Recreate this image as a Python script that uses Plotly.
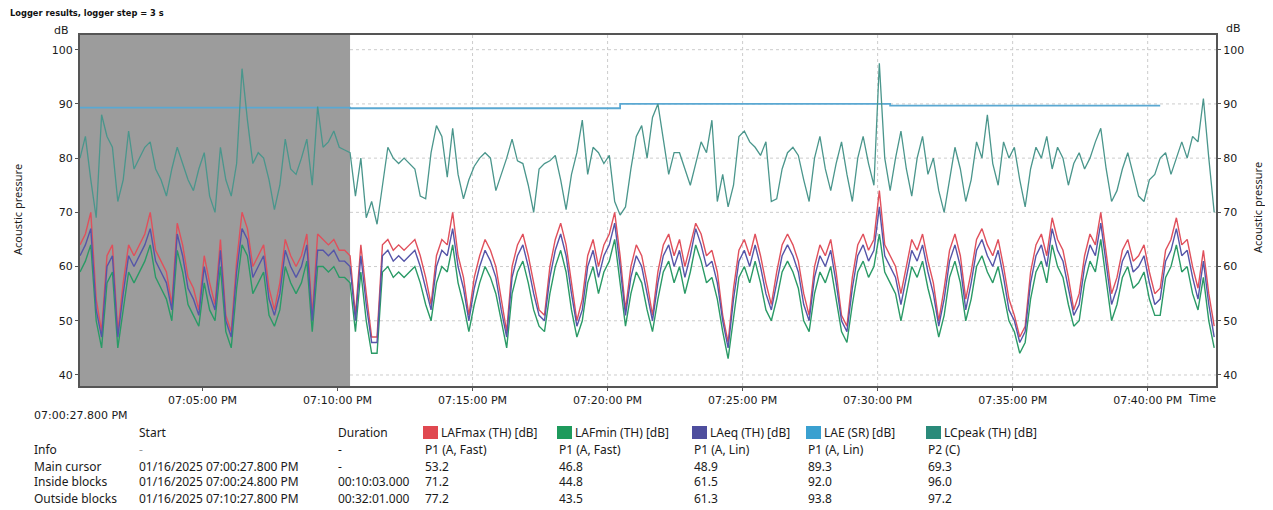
import plotly.graph_objects as go
import pandas as pd

# ---------------- data ----------------
TITLE = "Logger results, logger step = 3 s"
START = "2025-01-16 19:00:27.8"
END = "2025-01-16 19:42:31.8"
BLOCK_END = "2025-01-16 19:10:27.8"
SAMPLE_STEP_S = 12  # values every 12 s

LAFMAX = [64, 66, 70, 54, 48, 62, 64, 48, 57, 64,
          62, 64, 66, 70, 63, 61, 59, 53, 68, 64,
          58, 56, 52, 62, 57, 53, 65, 51, 48, 61,
          70, 67, 60, 62, 64, 56, 52, 57, 65, 62,
          60, 62, 66, 51, 66, 65, 64, 65, 63, 63,
          62, 51, 64, 55, 47, 47, 64, 65, 63, 64,
          63, 64, 65, 62, 58, 53, 62, 65, 64, 70,
          62, 58, 51, 58, 62, 65, 63, 60, 54, 48,
          60, 64, 66, 62, 57, 52, 51, 60, 65, 68,
          64, 57, 50, 54, 62, 65, 60, 64, 66, 70,
          62, 52, 60, 64, 62, 57, 51, 59, 64, 66,
          62, 65, 60, 64, 68, 66, 62, 63, 59, 51,
          46, 56, 63, 65, 62, 66, 62, 57, 53, 59,
          64, 66, 64, 61, 55, 51, 60, 64, 62, 65,
          59, 51, 49, 58, 64, 66, 63, 65, 74, 64,
          62, 60, 55, 60, 65, 63, 66, 61, 57, 50,
          56, 63, 66, 62, 54, 59, 65, 67, 64, 62,
          65, 60, 54, 51, 47, 49, 59, 64, 66, 62,
          69, 65, 63, 58, 52, 55, 62, 66, 64, 70,
          62, 55, 58, 63, 65, 61, 62, 64, 59, 55,
          56, 63, 65, 69, 64, 65, 60, 56, 63, 55, 49]

LAFMIN = [59, 61, 64, 50, 45, 57, 59, 45, 52, 59,
          57, 59, 61, 64, 58, 56, 54, 50, 63, 59,
          53, 51, 49, 57, 52, 50, 60, 48, 45, 56,
          64, 62, 55, 57, 59, 51, 49, 52, 60, 57,
          55, 57, 61, 48, 60, 60, 59, 60, 58, 58,
          57, 48, 59, 50, 44, 44, 59, 60, 58, 59,
          58, 59, 60, 57, 53, 50, 57, 60, 59, 64,
          57, 53, 48, 53, 57, 60, 58, 55, 50, 45,
          55, 59, 61, 57, 52, 49, 48, 55, 60, 63,
          59, 52, 47, 50, 57, 60, 55, 59, 61, 65,
          57, 49, 55, 59, 57, 52, 48, 54, 59, 61,
          57, 60, 55, 59, 64, 61, 57, 58, 54, 48,
          43, 51, 58, 60, 57, 61, 57, 52, 50, 54,
          59, 61, 59, 56, 50, 48, 55, 59, 57, 60,
          54, 48, 46, 53, 59, 61, 58, 60, 66, 59,
          57, 55, 50, 55, 60, 58, 61, 56, 52, 47,
          51, 58, 61, 57, 50, 54, 60, 62, 59, 57,
          60, 55, 50, 48, 44, 46, 54, 59, 61, 57,
          64, 60, 58, 53, 49, 50, 57, 61, 59, 65,
          57, 50, 53, 58, 60, 56, 57, 59, 54, 51,
          51, 58, 60, 64, 59, 60, 55, 52, 58, 50, 45]

LAEQ = [62, 64, 67, 52, 47, 60, 62, 47, 55, 62,
        60, 62, 64, 67, 61, 59, 57, 52, 66, 62,
        56, 54, 51, 60, 55, 52, 63, 50, 47, 59,
        67, 65, 58, 60, 62, 54, 51, 55, 63, 60,
        58, 60, 64, 50, 63, 63, 62, 63, 61, 61,
        60, 50, 62, 53, 46, 46, 62, 63, 61, 62,
        61, 62, 63, 60, 56, 52, 60, 63, 62, 67,
        60, 56, 50, 56, 60, 63, 61, 58, 52, 47,
        58, 62, 64, 60, 55, 51, 50, 58, 63, 66,
        62, 55, 49, 52, 60, 63, 58, 62, 64, 68,
        60, 51, 58, 62, 60, 55, 50, 57, 62, 64,
        60, 63, 58, 62, 67, 64, 60, 61, 57, 50,
        45, 54, 61, 63, 60, 64, 60, 55, 52, 57,
        62, 64, 62, 59, 53, 50, 58, 62, 60, 63,
        57, 50, 48, 56, 62, 64, 61, 63, 71, 62,
        60, 58, 53, 58, 63, 61, 64, 59, 55, 49,
        54, 61, 64, 60, 52, 57, 63, 65, 62, 60,
        63, 58, 52, 50, 46, 48, 57, 62, 64, 60,
        67, 63, 61, 56, 51, 53, 60, 64, 62, 68,
        60, 53, 56, 61, 63, 59, 60, 62, 57, 53,
        54, 61, 63, 67, 62, 63, 58, 54, 61, 53, 47]

LCPEAK = [80, 84, 76, 69, 88, 84, 82, 72, 76, 85,
          78, 80, 82, 83, 78, 76, 73, 78, 82, 79,
          76, 74, 78, 81, 73, 70, 82, 76, 73, 79,
          96.5, 87, 79, 81, 80, 76, 70.5, 75, 83.5, 78,
          77, 80, 83.5, 75, 89.5, 82, 83, 85, 82, 81.5,
          81, 73, 80, 69, 72, 67.8, 75, 82, 80, 79,
          80, 79, 78, 73, 72.5, 81, 86, 84, 76.5, 85.5,
          77, 72.5, 76, 78.5, 80, 81, 80, 74, 77, 80,
          83.5, 79.5, 79, 75, 70, 78, 79, 79.5, 80.5, 76,
          70.5, 77, 81, 87, 77, 82, 81, 79, 80.5, 72,
          69.5, 71, 78, 84, 86, 80, 87.5, 90, 83.5, 77,
          81, 81, 78, 75, 79, 83, 81, 87, 72, 77,
          71, 75, 84, 85, 83, 82, 80.5, 83, 72, 72.5,
          78, 81, 82, 80.5, 76, 72, 80, 84, 78, 74,
          79, 83, 77, 72, 80, 84, 79, 75, 97.5, 80,
          74, 80, 85, 78, 73, 80, 84, 77, 80, 74,
          70, 76, 82, 78, 72, 76, 83, 80, 88, 79,
          75, 83, 80, 82, 76, 71, 78, 82, 80, 84,
          78, 82, 80, 75, 79, 81, 78, 80, 83, 85.5,
          78, 72, 74, 78, 81, 77, 73, 72, 76, 77,
          80, 81, 77, 80, 83, 80, 84, 83, 91, 80, 70]

LAE_TIMES = ["2025-01-16 19:00:27.8", "2025-01-16 19:10:27.8",
             "2025-01-16 19:20:27.8", "2025-01-16 19:30:27.8",
             "2025-01-16 19:40:27.8"]
LAE_VALUES = [89.3, 89.2, 90.0, 89.7, 89.7]

Y_TICKS = [40, 50, 60, 70, 80, 90, 100]
X_TICKS = ["2025-01-16 19:05:00", "2025-01-16 19:10:00", "2025-01-16 19:15:00",
           "2025-01-16 19:20:00", "2025-01-16 19:25:00", "2025-01-16 19:30:00",
           "2025-01-16 19:35:00", "2025-01-16 19:40:00"]
X_TICK_LABELS = ["07:05:00 PM", "07:10:00 PM", "07:15:00 PM", "07:20:00 PM",
                 "07:25:00 PM", "07:30:00 PM", "07:35:00 PM", "07:40:00 PM"]
START_LABEL = "07:00:27.800 PM"
Y_TITLE = "Acoustic pressure"

SERIES_NAMES = ["LAFmax (TH) [dB]", "LAFmin (TH) [dB]", "LAeq (TH) [dB]",
                "LAE (SR) [dB]", "LCpeak (TH) [dB]"]
SERIES_INFO = ["P1 (A, Fast)", "P1 (A, Fast)", "P1 (A, Lin)", "P1 (A, Lin)", "P2 (C)"]
ROW_LABELS = ["Info", "Main cursor", "Inside blocks", "Outside blocks"]
ROW_START = ["-", "01/16/2025 07:00:27.800 PM", "01/16/2025 07:00:24.800 PM",
             "01/16/2025 07:10:27.800 PM"]
ROW_DURATION = ["-", "-", "00:10:03.000", "00:32:01.000"]
MAIN_CURSOR = [53.2, 46.8, 48.9, 89.3, 69.3]
INSIDE_BLOCKS = [71.2, 44.8, 61.5, 92.0, 96.0]
OUTSIDE_BLOCKS = [77.2, 43.5, 61.3, 93.8, 97.2]

# ---------------- styling / geometry ----------------
# the page body has an 8px margin, so the figure is drawn 8px smaller and all
# page-pixel positions below are measured on the page
OFF = 8
PAGE_W, PAGE_H = 1273, 510
W, H = PAGE_W - OFF, PAGE_H - OFF
PLOT_LEFT, PLOT_RIGHT, PLOT_TOP, PLOT_BOTTOM = 80, 1216, 35, 386   # page pixels
L, T = PLOT_LEFT - OFF, PLOT_TOP - OFF
R, B = PAGE_W - PLOT_RIGHT, PAGE_H - PLOT_BOTTOM
PW, PH = PLOT_RIGHT - PLOT_LEFT, PLOT_BOTTOM - PLOT_TOP
Y_RANGE = [37.97, 102.71]

LINE_COLORS = ["#e0505c", "#2a9a66", "#5555a8", "#5aa8d2", "#4a968c"]
SWATCH_COLORS = ["#e04850", "#1e9a5c", "#4e4e9e", "#3aa0d0", "#2a8a7a"]
GRID_COLOR = "#cccccc"
AXIS_FONT = dict(family="DejaVu Sans", size=11, color="#1a1a1a")
TABLE_FONT = dict(family="Noto Sans", size=12, color="#1a1a1a")


def px(xpix):
    return (xpix - PLOT_LEFT) / PW


def py(ypix):
    return (PLOT_BOTTOM - ypix) / PH


times = pd.date_range(START, periods=len(LAEQ), freq=f"{SAMPLE_STEP_S}s")

fig = go.Figure()
line_series = [LAFMAX, LAFMIN, LAEQ]
for name, vals, col in zip(SERIES_NAMES[:3], line_series, LINE_COLORS[:3]):
    fig.add_trace(go.Scatter(x=times, y=vals, mode="lines", name=name,
                             line=dict(color=col, width=1.4)))
fig.add_trace(go.Scatter(x=pd.to_datetime(LAE_TIMES), y=LAE_VALUES, mode="lines",
                         name=SERIES_NAMES[3], line=dict(color=LINE_COLORS[3], width=1.8, shape="hv")))
fig.add_trace(go.Scatter(x=times, y=LCPEAK, mode="lines", name=SERIES_NAMES[4],
                         line=dict(color=LINE_COLORS[4], width=1.3)))
# empty trace so that the right-hand axis is drawn
fig.add_trace(go.Scatter(x=[], y=[], yaxis="y2", hoverinfo="skip"))

# faint dotted grid (drawn as shapes so the grey block can cover it)
for t in X_TICKS:
    fig.add_shape(type="line", xref="x", yref="paper", x0=t, x1=t, y0=0, y1=1,
                  line=dict(color=GRID_COLOR, width=1, dash="dot"), layer="below")
for v in Y_TICKS:
    fig.add_shape(type="line", xref="paper", yref="y", x0=0, x1=1, y0=v, y1=v,
                  line=dict(color=GRID_COLOR, width=1, dash="dot"), layer="below")
fig.add_shape(type="rect", xref="x", yref="paper", x0=START, x1=BLOCK_END, y0=0, y1=1,
              fillcolor="#9c9c9c", line=dict(width=0), layer="below")

axis_common = dict(showline=True, linecolor="#555555", linewidth=2, ticks="outside",
                   ticklen=3, tickcolor="#555555", tickfont=AXIS_FONT,
                   showgrid=False, zeroline=False, automargin=False)

fig.update_layout(
    width=W, height=H, margin=dict(l=L, r=R, t=T, b=B, autoexpand=False),
    paper_bgcolor="white", plot_bgcolor="white", showlegend=False,
    xaxis=dict(type="date", range=[START, END], tickvals=X_TICKS, ticktext=X_TICK_LABELS,
               mirror=True, **axis_common),
    yaxis=dict(range=Y_RANGE, tickvals=Y_TICKS, mirror=True, **axis_common),
    yaxis2=dict(range=Y_RANGE, tickvals=Y_TICKS, overlaying="y", side="right",
                **axis_common),
)

ann = []


def text(xpix, ypix, s, font=TABLE_FONT, xanchor="left", angle=0):
    ann.append(dict(x=px(xpix), y=py(ypix), xref="paper", yref="paper", text=s,
                    showarrow=False, xanchor=xanchor, yanchor="middle", font=font,
                    textangle=angle))


TITLE_FONT = dict(family="Noto Sans", size=11, color="#1a1a1a")
text(8, 13, f"<b>{TITLE}</b>", font=dict(family="DejaVu Sans", size=8.3, color="#111"))
text(52, 31, "dB", font=AXIS_FONT)
text(1224, 28, "dB", font=AXIS_FONT)
text(1186, 398, "Time", font=AXIS_FONT)
text(32, 416, START_LABEL, font=AXIS_FONT)
text(17, 210, Y_TITLE, font=TITLE_FONT, xanchor="center", angle=-90)
text(1258, 208, Y_TITLE, font=TITLE_FONT, xanchor="center", angle=-90)

COL_LABEL, COL_START, COL_DUR = 32, 137, 336
COLS = [423, 557, 692, 806, 926]
ROW_Y = [449, 466, 482, 499]
HEADER_Y = 432

text(COL_START, HEADER_Y, "Start")
text(COL_DUR, HEADER_Y, "Duration")
for i, (name, c) in enumerate(zip(SERIES_NAMES, COLS)):
    fig.add_shape(type="rect", xref="paper", yref="paper",
                  x0=px(c), x1=px(c + 15), y0=py(HEADER_Y + 7), y1=py(HEADER_Y - 6),
                  fillcolor=SWATCH_COLORS[i], line=dict(width=0))
    text(c + 16, HEADER_Y, name)

row_values = [SERIES_INFO, MAIN_CURSOR, INSIDE_BLOCKS, OUTSIDE_BLOCKS]
for r, ry in enumerate(ROW_Y):
    text(COL_LABEL, ry, ROW_LABELS[r])
    text(COL_START, ry, ROW_START[r],
         font=dict(TABLE_FONT, color="#9a9a9a") if ROW_START[r] == "-" else TABLE_FONT)
    text(COL_DUR, ry, ROW_DURATION[r])
    for c, v in zip(COLS, row_values[r]):
        text(c, ry, v if isinstance(v, str) else f"{v:.1f}")

fig.update_layout(annotations=ann)
fig.write_html("out.html")
